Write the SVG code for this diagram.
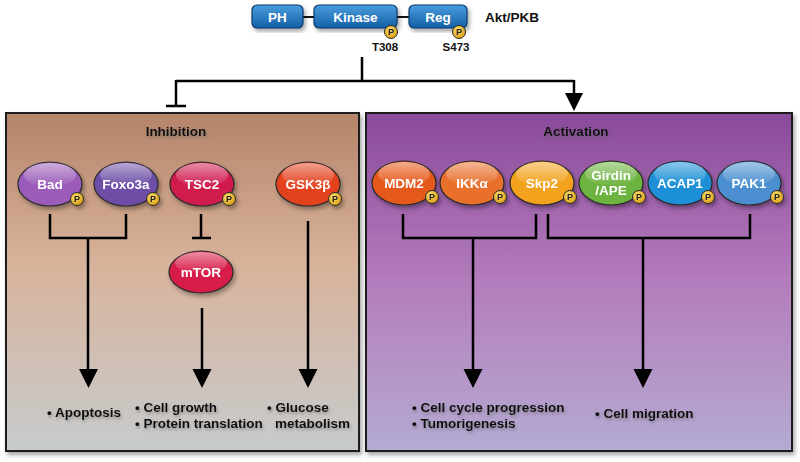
<svg xmlns="http://www.w3.org/2000/svg" width="800" height="462" viewBox="0 0 800 462">
<defs>
<linearGradient id="gLeft" x1="0" y1="0" x2="0" y2="1">
<stop offset="0" stop-color="#b5846a"/>
<stop offset="0.45" stop-color="#d8b39b"/>
<stop offset="1" stop-color="#c7cbcd"/>
</linearGradient>
<linearGradient id="gRight" x1="0" y1="0" x2="0" y2="1">
<stop offset="0" stop-color="#8a4a9b"/>
<stop offset="0.5" stop-color="#b47cbc"/>
<stop offset="1" stop-color="#b4abd2"/>
</linearGradient>
<linearGradient id="gBlue" x1="0" y1="0" x2="0" y2="1">
<stop offset="0" stop-color="#4a9ede"/>
<stop offset="1" stop-color="#135fa6"/>
</linearGradient>
<linearGradient id="gloss" x1="0" y1="0" x2="0" y2="1">
<stop offset="0" stop-color="#fff" stop-opacity="0.5"/>
<stop offset="1" stop-color="#fff" stop-opacity="0"/>
</linearGradient>
<radialGradient id="gP" cx="0.4" cy="0.35" r="0.7">
<stop offset="0" stop-color="#ffe070"/>
<stop offset="1" stop-color="#d89a10"/>
</radialGradient>
<filter id="sh" x="-10%" y="-10%" width="130%" height="130%">
<feDropShadow dx="2" dy="3" stdDeviation="2" flood-color="#000" flood-opacity="0.35"/>
</filter>
<filter id="tsh" x="-10%" y="-20%" width="130%" height="160%">
<feDropShadow dx="1" dy="2" stdDeviation="1.4" flood-color="#555" flood-opacity="0.5"/>
</filter>
</defs>
<style>
.box{stroke:#1a1a1a;stroke-width:2}
.ov{stroke:#2a2a2a;stroke-width:1.2}
.nt{font-family:"Liberation Sans",Arial,sans-serif;font-weight:bold;font-size:13.5px;fill:#fff;text-anchor:middle}
.lb{font-family:"Liberation Sans",Arial,sans-serif;font-weight:bold;font-size:13.5px;fill:#111}
.sm{font-family:"Liberation Sans",Arial,sans-serif;font-weight:bold;font-size:11.5px;fill:#111}
.pc{fill:url(#gP);stroke:#2a2a2a;stroke-width:1}
.pt{font-family:"Liberation Sans",Arial,sans-serif;font-weight:bold;font-size:9px;fill:#222;text-anchor:middle}
.ln{stroke:#000;stroke-width:2.5;fill:none}
.blue{fill:url(#gBlue);stroke:#0a3a6a;stroke-width:1.2}
</style>

<!-- panels -->
<g id="panel-inhibition">
<rect x="6" y="113" width="353" height="338" fill="url(#gLeft)" class="box" filter="url(#sh)"/>
<text x="176" y="136" class="lb" text-anchor="middle" fill="#333" filter="url(#tsh)">Inhibition</text>
</g>
<g id="panel-activation">
<rect x="366" y="113" width="426" height="338" fill="url(#gRight)" class="box" filter="url(#sh)"/>
<text x="576" y="136" class="lb" text-anchor="middle" filter="url(#tsh)">Activation</text>
</g>

<!-- Akt/PKB -->
<g id="akt">
<line x1="303" y1="17" x2="314" y2="17" stroke="#111" stroke-width="2"/>
<line x1="397" y1="17" x2="409" y2="17" stroke="#111" stroke-width="2"/>
<g id="PH"><rect x="252" y="5" width="51" height="23" rx="5" class="blue" filter="url(#sh)"/><text x="277.5" y="21.5" class="nt" font-size="14.5">PH</text></g>
<g id="Kinase"><rect x="314" y="5" width="83" height="23" rx="5" class="blue" filter="url(#sh)"/><text x="355.5" y="21.5" class="nt" font-size="14.5">Kinase</text>
<circle cx="391" cy="32" r="6.5" class="pc"/><text x="391" y="35.3" class="pt">P</text></g>
<g id="Reg"><rect x="409" y="5" width="58" height="23" rx="5" class="blue" filter="url(#sh)"/><text x="438" y="21.5" class="nt" font-size="14.5">Reg</text>
<circle cx="459" cy="32" r="6.5" class="pc"/><text x="459" y="35.3" class="pt">P</text></g>
<text x="385" y="51" class="sm" text-anchor="middle">T308</text>
<text x="456" y="51" class="sm" text-anchor="middle">S473</text>
<text x="485" y="22" class="lb">Akt/PKB</text>
</g>

<!-- connectors -->
<g id="connectors">
<path class="ln" d="M362,57 V81 M176,81 H574 M176,80 V106 M166,106 H186"/>
<path class="ln" d="M574,80 V93"/>
<path d="M565,93 L583,93 L574,111 Z" fill="#000"/>
<path class="ln" d="M50,214 V238 H126 V214 M88,238 V370"/>
<path d="M79,369 L98,369 L88.5,388 Z" fill="#000"/>
<path class="ln" d="M201,214 V238 M192,238 H211"/>
<path class="ln" d="M202,308 V370"/>
<path d="M192.5,369 L211.5,369 L202,388 Z" fill="#000"/>
<path class="ln" d="M308,221 V370"/>
<path d="M298.5,369 L317.5,369 L308,388 Z" fill="#000"/>
<path class="ln" d="M403,214 V238 H536 V214 M473,238 V370"/>
<path d="M463.5,369 L482.5,369 L473,388 Z" fill="#000"/>
<path class="ln" d="M548,214 V238 H750 V214 M643,238 V370"/>
<path d="M633.5,369 L652.5,369 L643,388 Z" fill="#000"/>
</g>

<!-- left nodes -->
<g id="Bad" filter="url(#sh)">
<ellipse cx="50" cy="184" rx="32" ry="22" fill="#9a5cb8" class="ov"/>
<ellipse cx="50" cy="175" rx="26" ry="12" fill="url(#gloss)"/>
<text x="50" y="189" class="nt">Bad</text>
<circle cx="77" cy="199" r="6.5" class="pc"/><text x="77" y="202.3" class="pt">P</text>
</g>
<g id="Foxo3a" filter="url(#sh)">
<ellipse cx="126" cy="184" rx="32" ry="22" fill="#6d4ea6" class="ov"/>
<ellipse cx="126" cy="175" rx="26" ry="12" fill="url(#gloss)"/>
<text x="126" y="189" class="nt">Foxo3a</text>
<circle cx="153" cy="199" r="6.5" class="pc"/><text x="153" y="202.3" class="pt">P</text>
</g>
<g id="TSC2" filter="url(#sh)">
<ellipse cx="202" cy="184" rx="32" ry="22" fill="#cf1a4e" class="ov"/>
<ellipse cx="202" cy="175" rx="26" ry="12" fill="url(#gloss)"/>
<text x="202" y="189" class="nt">TSC2</text>
<circle cx="229" cy="199" r="6.5" class="pc"/><text x="229" y="202.3" class="pt">P</text>
</g>
<g id="GSK3b" filter="url(#sh)">
<ellipse cx="308" cy="184" rx="32" ry="22" fill="#e4421e" class="ov"/>
<ellipse cx="308" cy="175" rx="26" ry="12" fill="url(#gloss)"/>
<text x="308" y="189" class="nt">GSK3β</text>
<circle cx="335" cy="199" r="6.5" class="pc"/><text x="335" y="202.3" class="pt">P</text>
</g>
<g id="mTOR" filter="url(#sh)">
<ellipse cx="201" cy="272" rx="32" ry="21" fill="#d81c48" class="ov"/>
<ellipse cx="201" cy="263" rx="26" ry="11" fill="url(#gloss)"/>
<text x="201" y="277" class="nt">mTOR</text>
</g>

<!-- right nodes -->
<g id="MDM2" filter="url(#sh)">
<ellipse cx="404" cy="183" rx="32" ry="22" fill="#e5581a" class="ov"/>
<ellipse cx="404" cy="174" rx="26" ry="12" fill="url(#gloss)"/>
<text x="404" y="188" class="nt">MDM2</text>
<circle cx="432" cy="197" r="6.5" class="pc"/><text x="432" y="200.3" class="pt">P</text>
</g>
<g id="IKKa" filter="url(#sh)">
<ellipse cx="472" cy="183" rx="32" ry="22" fill="#e8702c" class="ov"/>
<ellipse cx="472" cy="174" rx="26" ry="12" fill="url(#gloss)"/>
<text x="472" y="188" class="nt">IKKα</text>
<circle cx="500" cy="197" r="6.5" class="pc"/><text x="500" y="200.3" class="pt">P</text>
</g>
<g id="Skp2" filter="url(#sh)">
<ellipse cx="542" cy="183" rx="32" ry="22" fill="#f2a21c" class="ov"/>
<ellipse cx="542" cy="174" rx="26" ry="12" fill="url(#gloss)"/>
<text x="542" y="188" class="nt">Skp2</text>
<circle cx="570" cy="197" r="6.5" class="pc"/><text x="570" y="200.3" class="pt">P</text>
</g>
<g id="Girdin" filter="url(#sh)">
<ellipse cx="611" cy="183" rx="32" ry="22" fill="#6db33f" class="ov"/>
<ellipse cx="611" cy="174" rx="26" ry="12" fill="url(#gloss)"/>
<text x="611" y="180" class="nt">Girdin</text>
<text x="611" y="195" class="nt">/APE</text>
<circle cx="639" cy="197" r="6.5" class="pc"/><text x="639" y="200.3" class="pt">P</text>
</g>
<g id="ACAP1" filter="url(#sh)">
<ellipse cx="680" cy="183" rx="32" ry="22" fill="#1a8fd6" class="ov"/>
<ellipse cx="680" cy="174" rx="26" ry="12" fill="url(#gloss)"/>
<text x="680" y="188" class="nt">ACAP1</text>
<circle cx="708" cy="197" r="6.5" class="pc"/><text x="708" y="200.3" class="pt">P</text>
</g>
<g id="PAK1" filter="url(#sh)">
<ellipse cx="749" cy="183" rx="32" ry="22" fill="#4b8fd0" class="ov"/>
<ellipse cx="749" cy="174" rx="26" ry="12" fill="url(#gloss)"/>
<text x="749" y="188" class="nt">PAK1</text>
<circle cx="777" cy="197" r="6.5" class="pc"/><text x="777" y="200.3" class="pt">P</text>
</g>

<!-- outcome labels -->
<g id="outcomes" filter="url(#tsh)">
<text x="47" y="417" class="lb">• Apoptosis</text>
<text x="135" y="412" class="lb">• Cell growth</text>
<text x="135" y="428" class="lb">• Protein translation</text>
<text x="267" y="412" class="lb">• Glucose</text>
<text x="275" y="428" class="lb">metabolism</text>
<text x="412" y="412" class="lb">• Cell cycle progression</text>
<text x="412" y="428" class="lb">• Tumorigenesis</text>
<text x="595" y="418" class="lb">• Cell migration</text>
</g>
</svg>
